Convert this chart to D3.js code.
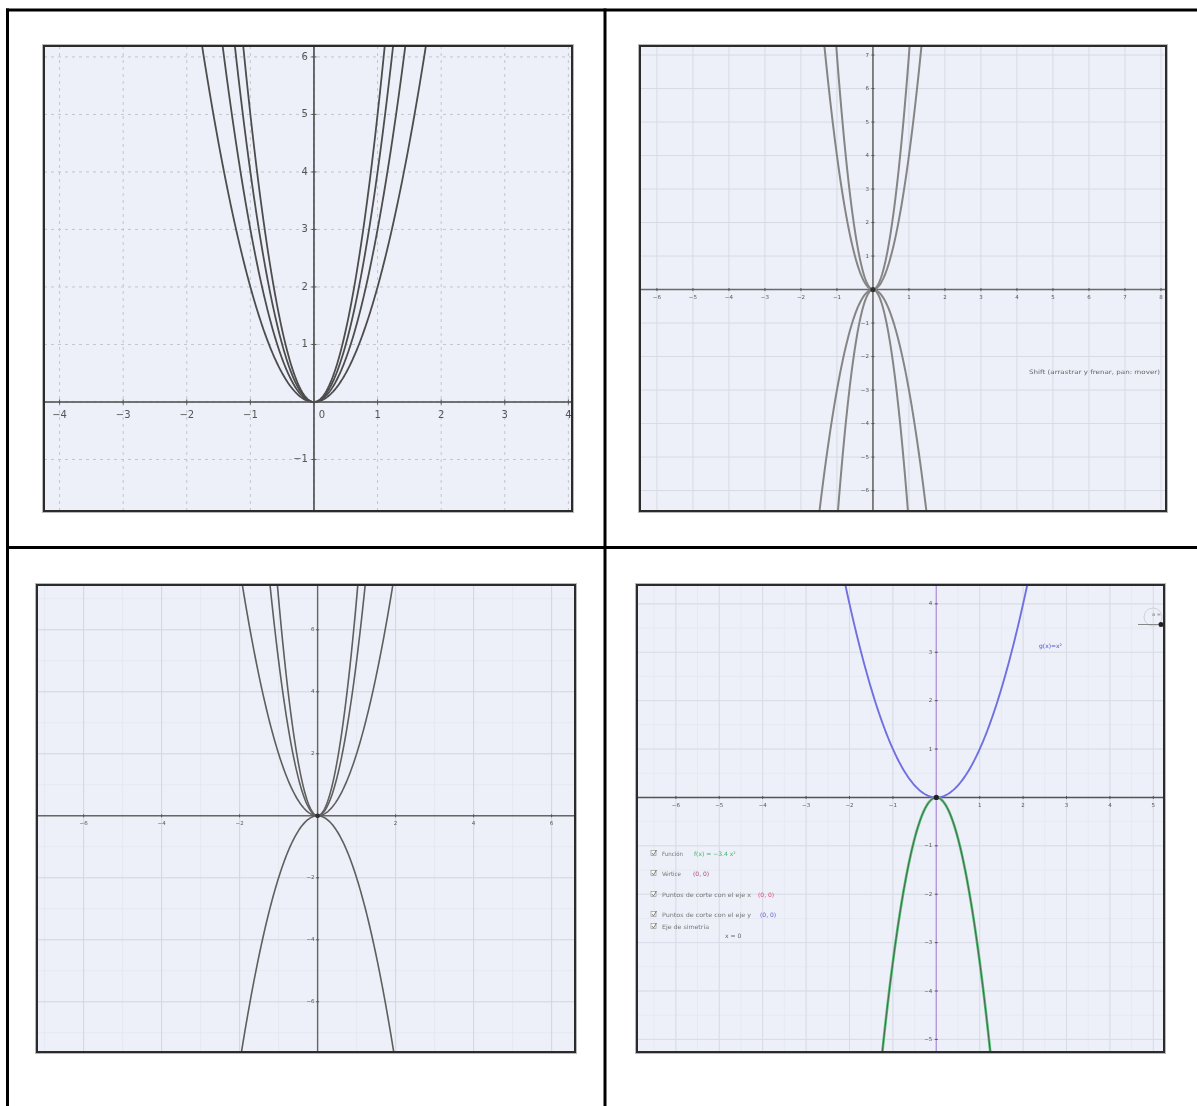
<!DOCTYPE html>
<html>
<head>
<meta charset="utf-8">
<script src="https://cdn.jsdelivr.net/npm/d3@7"></script>
<style>
  body { margin: 0; background: #fff; }
  svg { display: block; }
</style>
</head>
<body>
<svg id="chart" width="1197" height="1106"></svg>
<script>
// Coefficients a of the parabolas y = a·x² drawn in each graph
const coefsA = [2, 3, 4, 5];
const coefsB = [4, 7, -3, -7];
const coefsC = [2, 5, 7, -2];
const coefG = 1;      // g(x) = x²
const coefF = -3.4;   // f(x) = −3.4 x²

// Axis tick labels of each graph
const ticksAX = [-4, -3, -2, -1, 0, 1, 2, 3, 4];
const ticksAY = [-1, 1, 2, 3, 4, 5, 6];
const ticksBX = [-6, -5, -4, -3, -2, -1, 1, 2, 3, 4, 5, 6, 7, 8];
const ticksBY = [-6, -5, -4, -3, -2, -1, 1, 2, 3, 4, 5, 6, 7];
const ticksCX = [-6, -4, -2, 2, 4, 6];
const ticksCY = [-6, -4, -2, 2, 4, 6];
const ticksDX = [-6, -5, -4, -3, -2, -1, 1, 2, 3, 4, 5];
const ticksDY = [-5, -4, -3, -2, -1, 1, 2, 3, 4];

// Checkbox list of the last graph
const legendLabels = ["Función", "Vértice", "Puntos de corte con el eje x", "Puntos de corte con el eje y", "Eje de simetría"];
const legendValues = ["f(x) = −3.4 x²", "(0, 0)", "(0, 0)", "(0, 0)", "x = 0"];

const svg = d3.select("#chart");
const defs = svg.append("defs");
defs.append("filter").attr("id", "soft")
  .attr("x", "-5%").attr("y", "-5%").attr("width", "110%").attr("height", "110%")
  .append("feGaussianBlur").attr("stdDeviation", 0.6);

// ---- table lines ----
const table = svg.append("g").attr("stroke", "#000").attr("stroke-width", 3);
table.append("line").attr("x1", 6).attr("x2", 1197).attr("y1", 10).attr("y2", 10);
table.append("line").attr("x1", 7.5).attr("x2", 7.5).attr("y1", 8.5).attr("y2", 1106);
table.append("line").attr("x1", 605).attr("x2", 605).attr("y1", 8.5).attr("y2", 1106);
table.append("line").attr("x1", 6).attr("x2", 1197).attr("y1", 547.5).attr("y2", 547.5);

// ---- helpers ----
function makePanel(id, box, xDom, yDom) {
  const [x0, y0, x1, y1] = box;
  const x = d3.scaleLinear().domain(xDom).range([x0, x1]);
  const y = d3.scaleLinear().domain(yDom).range([y1, y0]);
  defs.append("clipPath").attr("id", "clip-" + id)
    .append("rect").attr("x", x0).attr("y", y0).attr("width", x1 - x0).attr("height", y1 - y0);
  const outer = svg.append("g");
  const g = outer.append("g").attr("clip-path", `url(#clip-${id})`);
  const inner = g.append("g").attr("filter", "url(#soft)");
  inner.append("rect").attr("x", x0).attr("y", y0).attr("width", x1 - x0).attr("height", y1 - y0)
    .attr("fill", "#edf0f8");
  return { x, y, box, g: inner, outer };
}

function grid(p, step, color, width, dash) {
  const [xa, xb] = p.x.domain(), [ya, yb] = p.y.domain();
  const xs = d3.range(Math.ceil(xa / step) * step, xb, step);
  const ys = d3.range(Math.ceil(ya / step) * step, yb, step);
  const gg = p.g.append("g").attr("stroke", color).attr("stroke-width", width);
  if (dash) gg.attr("stroke-dasharray", dash);
  gg.selectAll(".gv").data(xs).join("line").attr("class", "gv")
    .attr("x1", d => p.x(d)).attr("x2", d => p.x(d)).attr("y1", p.box[1]).attr("y2", p.box[3]);
  gg.selectAll(".gh").data(ys).join("line").attr("class", "gh")
    .attr("y1", d => p.y(d)).attr("y2", d => p.y(d)).attr("x1", p.box[0]).attr("x2", p.box[2]);
}

function axes(p, color, width, yColor) {
  p.g.append("line").attr("x1", p.box[0]).attr("x2", p.box[2]).attr("y1", p.y(0)).attr("y2", p.y(0))
    .attr("stroke", color).attr("stroke-width", width);
  p.g.append("line").attr("x1", p.x(0)).attr("x2", p.x(0)).attr("y1", p.box[1]).attr("y2", p.box[3])
    .attr("stroke", yColor || color).attr("stroke-width", width);
}

function tickLabels(p, xt, yt, size, dx, dy, tick) {
  const lab = p.g.append("g").attr("font-family", "DejaVu Sans, sans-serif").attr("font-size", size)
    .attr("fill", "#555");
  const x0 = p.x(0), y0 = p.y(0);
  const tk = p.g.append("g").attr("stroke", "#555").attr("stroke-width", 1);
  tk.selectAll("line.tx").data(xt).join("line").attr("class", "tx")
    .attr("x1", d => p.x(d)).attr("x2", d => p.x(d)).attr("y1", y0 - tick).attr("y2", y0 + tick);
  tk.selectAll("line.ty").data(yt).join("line").attr("class", "ty")
    .attr("y1", d => p.y(d)).attr("y2", d => p.y(d)).attr("x1", x0 - tick).attr("x2", x0 + tick);
  lab.selectAll("text.lx").data(xt).join("text").attr("class", "lx")
    .attr("x", d => p.x(d) + (d === 0 ? size * 0.8 : 0)).attr("y", y0 + dy)
    .attr("text-anchor", "middle").attr("dominant-baseline", "middle")
    .text(d => d < 0 ? "−" + Math.abs(d) : d);
  lab.selectAll("text.ly").data(yt).join("text").attr("class", "ly")
    .attr("x", x0 - dx).attr("y", d => p.y(d))
    .attr("text-anchor", "end").attr("dominant-baseline", "middle")
    .text(d => d < 0 ? "−" + Math.abs(d) : d);
}

function parabola(p, a, color, width) {
  const [xa, xb] = p.x.domain();
  const xs = d3.range(xa, xb, (xb - xa) / 600).concat([xb]);
  const line = d3.line().x(d => p.x(d)).y(d => p.y(a * d * d)).curve(d3.curveLinear);
  p.g.append("path").datum(xs).attr("d", line).attr("fill", "none")
    .attr("stroke", color).attr("stroke-width", width);
}

function frame(p) {
  const [x0, y0, x1, y1] = p.box;
  p.outer.append("rect").attr("x", x0 - 1.5).attr("y", y0 - 1.5).attr("width", x1 - x0 + 3).attr("height", y1 - y0 + 3)
    .attr("fill", "none").attr("stroke", "#b8b8b8").attr("stroke-width", 1);
  p.outer.append("rect").attr("x", x0).attr("y", y0).attr("width", x1 - x0).attr("height", y1 - y0)
    .attr("fill", "none").attr("stroke", "#2b2b2b").attr("stroke-width", 2);
}

// ---- graph A: y = a x², a > 0 ----
const pA = makePanel("a", [44, 46, 572, 511], [-4.245, 4.057], [-1.896, 6.19]);
grid(pA, 1, "#c3c5cc", 1, "3,4");
axes(pA, "#4a4a4a", 1.6);
tickLabels(pA, ticksAX, ticksAY, 10, 6, 13, 2.5);
coefsA.forEach(a => parabola(pA, a, "#4d4d4d", 1.8));
frame(pA);

// ---- graph B: upward and downward parabolas ----
const pB = makePanel("b", [640, 46, 1166, 511], [-6.47, 8.14], [-6.61, 7.27]);
grid(pB, 1, "#d6dae4", 1);
axes(pB, "#6a6a6a", 1.6);
tickLabels(pB, ticksBX, ticksBY, 5.5, 4, 8, 1.5);
coefsB.forEach(a => parabola(pB, a, "#858585", 2));
pB.g.append("circle").attr("cx", pB.x(0)).attr("cy", pB.y(0)).attr("r", 2.6).attr("fill", "#333");
pB.g.append("text").attr("x", 1029).attr("y", 372).attr("dominant-baseline", "middle")
  .attr("font-family", "DejaVu Sans, sans-serif").attr("font-size", 6).attr("fill", "#666")
  .attr("textLength", 131).attr("lengthAdjust", "spacingAndGlyphs")
  .text("Shift (arrastrar y frenar, pan: mover)");
frame(pB);

// ---- graph C ----
const pC = makePanel("c", [37, 585, 575, 1052], [-7.195, 6.6], [-7.62, 7.445]);
grid(pC, 1, "#e5e8f0", 1);
grid(pC, 2, "#d3d7e2", 1);
axes(pC, "#666", 1.4);
tickLabels(pC, ticksCX, ticksCY, 5.5, 3, 8, 1.5);
coefsC.forEach(a => parabola(pC, a, "#5e5e5e", 1.6));
pC.g.append("circle").attr("cx", pC.x(0)).attr("cy", pC.y(0)).attr("r", 2.4).attr("fill", "#333");
frame(pC);

// ---- graph D: g(x) = x² and f(x) = −3.4 x² ----
const pD = makePanel("d", [637, 585, 1164, 1052], [-6.896, 5.246], [-5.26, 4.39]);
grid(pD, 0.5, "#e6e9f1", 1);
grid(pD, 1, "#d8dce6", 1);
axes(pD, "#555", 1.4, "#b59ade");
tickLabels(pD, ticksDX, ticksDY, 5.5, 4, 8, 1.5);
parabola(pD, coefG, "#7070e0", 1.9);
parabola(pD, coefF, "#52bd72", 2.6);
parabola(pD, coefF, "#4a5a4c", 0.9);
pD.g.append("circle").attr("cx", pD.x(0)).attr("cy", pD.y(0)).attr("r", 2.6).attr("fill", "#222");

const txtD = pD.g.append("g").attr("font-family", "DejaVu Sans, sans-serif").attr("font-size", 6);
txtD.append("text").attr("x", 1039).attr("y", 648).attr("fill", "#5050d8").text("g(x)=x²");

// slider in the corner
pD.g.append("circle").attr("cx", 1153).attr("cy", 617).attr("r", 9).attr("fill", "none").attr("stroke", "#d0d0d8");
pD.g.append("line").attr("x1", 1138).attr("x2", 1161).attr("y1", 624.5).attr("y2", 624.5).attr("stroke", "#888").attr("stroke-width", 1);
pD.g.append("circle").attr("cx", 1161).attr("cy", 624.5).attr("r", 2.5).attr("fill", "#222");
txtD.append("text").attr("x", 1152).attr("y", 616).attr("fill", "#777").attr("font-size", 5).text("a = 1");

// checkbox list
const rowY = [854, 874, 895, 915, 927];
const valX = [694, 693, 758, 760, 725];
const valColor = ["#3cb868", "#b04488", "#e0466a", "#5a5ad6", "#666"];
const labW = [21, 19, 89, 89, 47];
legendLabels.forEach((lab, i) => {
  const gy = rowY[i];
  txtD.append("rect").attr("x", 651).attr("y", gy - 3.5).attr("width", 5).attr("height", 5)
    .attr("fill", "#fafafa").attr("stroke", "#999").attr("stroke-width", 0.7);
  txtD.append("path").attr("d", `M${652},${gy - 1} l1.5,2 l3,-5`).attr("fill", "none")
    .attr("stroke", "#666").attr("stroke-width", 0.8);
  txtD.append("text").attr("x", 662).attr("y", gy).attr("dominant-baseline", "middle").attr("fill", "#777")
    .attr("textLength", labW[i]).attr("lengthAdjust", "spacingAndGlyphs").text(lab);
  txtD.append("text").attr("x", valX[i]).attr("y", i === 4 ? gy + 9 : gy).attr("dominant-baseline", "middle")
    .attr("fill", valColor[i]).text(legendValues[i]);
});
frame(pD);
</script>
</body>
</html>
